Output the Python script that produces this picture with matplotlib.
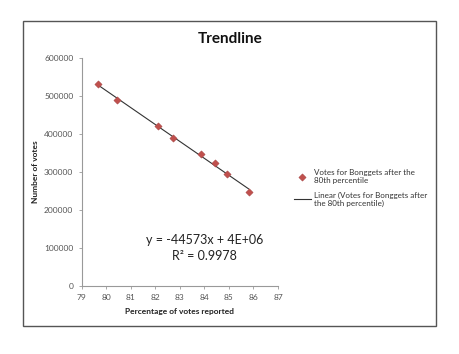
import matplotlib
matplotlib.use("Agg")
import matplotlib.pyplot as plt
from matplotlib.patches import Rectangle
import numpy as np

plt.rcParams['font.family'] = ['Lato', 'DejaVu Sans']

pct_reported = [79.67, 80.42, 82.10, 82.73, 83.86, 84.44, 84.91, 85.80]
votes = [530800, 489500, 421800, 389500, 346600, 323700, 293900, 248200]
x_ticks = [79, 80, 81, 82, 83, 84, 85, 86, 87]
y_ticks = [0, 100000, 200000, 300000, 400000, 500000, 600000]
title = "Trendline"
series_label = "Votes for Bonggets after the\n80th percentile"
trend_label = "Linear (Votes for Bonggets after\nthe 80th percentile)"
eq_text = "y = -44573x + 4E+06\nR² = 0.9978"

fig = plt.figure(figsize=(4.6, 3.54), dpi=100)
fig.patch.set_facecolor('white')
fig.patches.append(Rectangle((23/460, 1-326/354), (436-23)/460, (326-21)/354,
                             transform=fig.transFigure, fill=False,
                             edgecolor='#555555', linewidth=1.0))

ax = fig.add_axes([81.7/460, 1-285.7/354, (278-81.7)/460, (285.7-58)/354])
ax.set_xlim(79, 87)
ax.set_ylim(0, 600000)
ax.set_xticks(x_ticks)
ax.set_yticks(y_ticks)
ax.set_xticklabels([str(t) for t in x_ticks])
ax.set_yticklabels([str(t) for t in y_ticks])
for s in ['top', 'right']:
    ax.spines[s].set_visible(False)
for s in ['left', 'bottom']:
    ax.spines[s].set_color('#999999')
    ax.spines[s].set_linewidth(0.8)
ax.tick_params(axis='both', labelsize=6, colors='#999999', labelcolor='#555555',
               length=2.5, width=0.6, direction='out')

coef = np.polyfit(pct_reported, votes, 1)
xs = np.array([min(pct_reported), max(pct_reported)])
line, = ax.plot(xs, np.polyval(coef, xs), color='#333333', linewidth=0.8,
                label=trend_label, zorder=2)
pts = ax.scatter(pct_reported, votes, marker='D', s=14, color='#C0504D',
                 edgecolors='#A04040', linewidths=0.3, label=series_label, zorder=3)

ax.text(84.0, 100000, eq_text, ha='center', va='center', fontsize=9,
        color='#222222', linespacing=1.35, multialignment='center')

ax.set_xlabel("Percentage of votes reported", fontsize=6, fontweight='bold',
              color='#222222', labelpad=5)
ax.set_ylabel("Number of votes", fontsize=6, fontweight='bold',
              color='#222222', labelpad=4)

fig.text(230/460, 1-39/354, title, ha='center', va='center', fontsize=11,
         fontweight='bold', color='#111111')

leg = fig.legend(handles=[pts, line], labels=[series_label, trend_label],
                 loc='center left', bbox_to_anchor=(288/460, 1-188/354),
                 frameon=False, fontsize=5.8, handlelength=2.2,
                 labelspacing=0.9, borderpad=0.2, handletextpad=0.3)
for t in leg.get_texts():
    t.set_color('#333333')

fig.savefig("out.png", dpi=100, facecolor='white')
